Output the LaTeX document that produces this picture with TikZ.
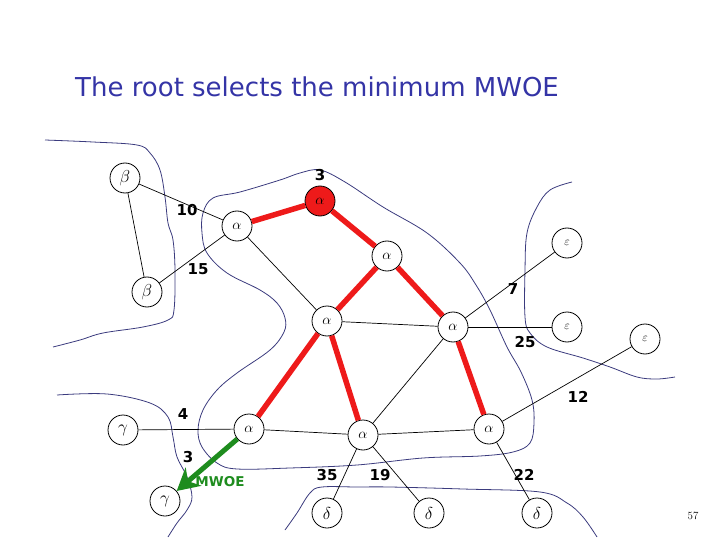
\documentclass[tikz,border=0pt]{standalone}
\usepackage{fontspec}
\usetikzlibrary{arrows.meta}
\newfontfamily\labfont{DejaVu Sans}
\newfontfamily\titlefont{DejaVu Sans}
\definecolor{regblue}{HTML}{3B3B7E}
\definecolor{titleblue}{HTML}{3434A6}
\definecolor{treered}{HTML}{EE1A1A}
\definecolor{mwoegreen}{HTML}{1E8C1E}
\tikzset{
  vtx/.style={circle, draw, line width=0.8pt, minimum size=30pt, inner sep=0pt, fill=white, font=\fontsize{17}{17}\selectfont},
  avtx/.style={vtx, font=\fontsize{15}{15}\selectfont},
  evtx/.style={vtx, font=\fontsize{12}{12}\selectfont},
  root/.style={avtx, fill=treered},
  region/.style={draw=regblue, line width=0.8pt},
  thin edge/.style={draw=black, line width=0.7pt},
  tree edge/.style={draw=treered, line width=5.5pt},
  wlabel/.style={font=\labfont\bfseries\fontsize{15}{15}\selectfont, inner sep=0pt},
}
\begin{document}
\begin{tikzpicture}[x=1pt,y=-1pt]
\useasboundingbox (0,0) rectangle (720,540);
% title
\node[anchor=base west, inner sep=0pt, text=titleblue, font=\titlefont\fontsize{26}{26}\selectfont] (title) at (75,97) {The root selects the minimum MWOE};

% region boundaries
\draw[region] plot[smooth, tension=0.6] coordinates {(45,140) (93,142) (137,145) (150,153) (160,170) (165,197) (168,223) (173,240) (175,270) (174,310) (168,320) (143,327) (103,333) (80,340) (53,347)};
\draw[region] plot[smooth cycle, tension=0.6] coordinates {(320,170) (300,173) (280,180) (240,192) (213,198) (203,213) (202,233) (207,253) (227,273) (260,290) (277,303) (285,318) (284,332) (270,350) (237,373) (217,390) (203,410) (198,430) (202,447) (217,463) (237,469) (290,468) (357,465) (423,458) (480,456) (513,452) (530,443) (534,423) (532,400) (521,372) (507,347) (490,310) (476,285) (460,263) (427,233) (383,207) (345,182)};
\draw[region] plot[smooth, tension=0.6] coordinates {(57,395) (107,394) (150,403) (168,417) (173,437) (177,457) (187,477) (192,497) (187,510) (177,523) (168,537)};
\draw[region] plot[smooth, tension=0.6] coordinates {(285,530) (297,513) (310,493) (322,487) (357,487) (390,487) (463,489) (540,492) (567,503) (583,517) (597,537)};
\draw[region] plot[smooth, tension=0.6] coordinates {(572,182) (550,190) (537,207) (527,233) (525,270) (525,317) (530,333) (547,347) (583,358) (610,367) (637,377) (657,379) (675,377)};

% nodes
\node[vtx] (b1) at (125,178) {$\beta$};
\node[vtx] (b2) at (147,292) {$\beta$};
\node[avtx] (a1) at (237,226) {$\alpha$};
\node[root] (r) at (320,201) {$\alpha$};
\node[avtx] (a2) at (387,256) {$\alpha$};
\node[avtx] (a3) at (327,321) {$\alpha$};
\node[avtx] (a4) at (453,327) {$\alpha$};
\node[evtx] (e1) at (567,243) {$\varepsilon$};
\node[evtx] (e2) at (567,327) {$\varepsilon$};
\node[evtx] (e3) at (645,339) {$\varepsilon$};
\node[avtx] (a5) at (249,429) {$\alpha$};
\node[avtx] (a6) at (363,435) {$\alpha$};
\node[avtx] (a7) at (489,429) {$\alpha$};
\node[vtx] (g1) at (123,430) {$\gamma$};
\node[vtx] (g2) at (165,501) {$\gamma$};
\node[vtx] (d1) at (327,513) {$\delta$};
\node[vtx] (d2) at (429,513) {$\delta$};
\node[vtx] (d3) at (537,513) {$\delta$};

% thin edges
\draw[thin edge] (b1) -- (a1);
\draw[thin edge] (b1) -- (b2);
\draw[thin edge] (b2) -- (a1);
\draw[thin edge] (a1) -- (a3);
\draw[thin edge] (a3) -- (a4);
\draw[thin edge] (a4) -- (e1);
\draw[thin edge] (a4) -- (e2);
\draw[thin edge] (a4) -- (a6);
\draw[thin edge] (a7) -- (e3);
\draw[thin edge] (g1) -- (a5);
\draw[thin edge] (a5) -- (a6);
\draw[thin edge] (a6) -- (a7);
\draw[thin edge] (a6) -- (d1);
\draw[thin edge] (a6) -- (d2);
\draw[thin edge] (a7) -- (d3);

% tree edges
\draw[tree edge] (a1) -- (r);
\draw[tree edge] (r) -- (a2);
\draw[tree edge] (a2) -- (a3);
\draw[tree edge] (a2) -- (a4);
\draw[tree edge] (a3) -- (a5);
\draw[tree edge] (a3) -- (a6);
\draw[tree edge] (a4) -- (a7);

% MWOE arrow
\draw[draw=mwoegreen, line width=5pt, -{Stealth[length=22pt, width=24pt, inset=7pt]}] (a5) -- (g2);

% weight labels
\node[wlabel] (w3r) at (320,175) {3};
\node[wlabel] (w10) at (187,210) {10};
\node[wlabel] (w15) at (198,269) {15};
\node[wlabel] (w7) at (513,289) {7};
\node[wlabel] (w25) at (525,342) {25};
\node[wlabel] (w12) at (578,397) {12};
\node[wlabel] (w4) at (183,414) {4};
\node[wlabel] (w3g) at (188,457) {3};
\node[wlabel] (w35) at (327,475) {35};
\node[wlabel] (w19) at (380,475) {19};
\node[wlabel] (w22) at (524,475) {22};
\node[inner sep=0pt, text=mwoegreen, font=\labfont\bfseries\fontsize{13.5}{13.5}\selectfont] (mw) at (220,482) {MWOE};
\node[inner sep=0pt, font=\fontsize{11}{11}\selectfont] (pg) at (693,516) {57};
\end{tikzpicture}
\end{document}
